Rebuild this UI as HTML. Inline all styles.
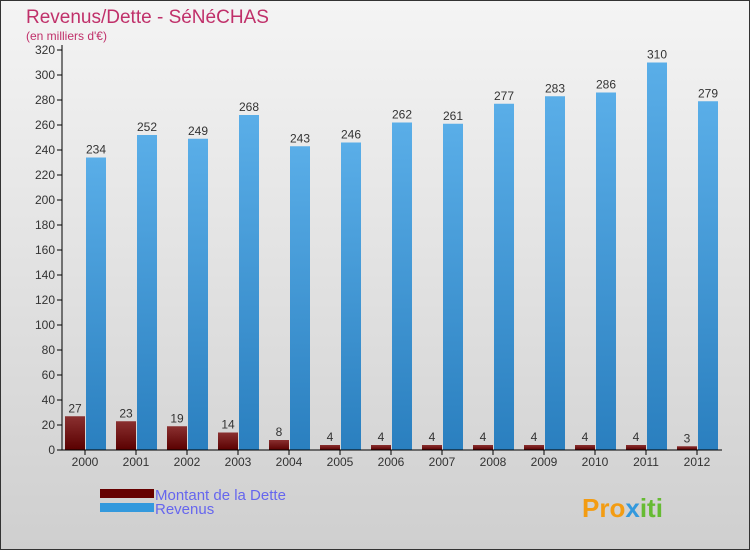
<!DOCTYPE html>
<html><head><meta charset="utf-8"><style>
body{margin:0;width:750px;height:550px;overflow:hidden;font-family:"Liberation Sans",sans-serif}
</style></head><body>
<svg width="750" height="550" xmlns="http://www.w3.org/2000/svg">
<defs>
<linearGradient id="bg" x1="0" y1="0" x2="0" y2="1"><stop offset="0" stop-color="#f4f4f4"/><stop offset="1" stop-color="#cfcfcf"/></linearGradient>
<linearGradient id="gr" x1="0" y1="0" x2="0" y2="1"><stop offset="0" stop-color="#8a3030"/><stop offset="1" stop-color="#5a0000"/></linearGradient>
<linearGradient id="gb" x1="0" y1="0" x2="0" y2="1"><stop offset="0" stop-color="#5aaee8"/><stop offset="1" stop-color="#2a7fbf"/></linearGradient>
</defs>
<rect x="0.5" y="0.5" width="749" height="549" fill="url(#bg)" stroke="#333"/>
<text x="26" y="23" font-size="19" fill="#c0306a">Revenus/Dette - SéNéCHAS</text>
<text x="26" y="40" font-size="12" fill="#c0306a">(en milliers d'€)</text>
<g id="plot"></g>
<rect x="100" y="489" width="54" height="9" fill="#660000"/>
<rect x="100" y="503" width="54" height="9" fill="#3399dd"/>
<text x="155" y="500" font-size="15" fill="#6666ee">Montant de la Dette</text>
<text x="155" y="514" font-size="15" fill="#6666ee">Revenus</text>
<text x="582" y="517" font-size="26" font-weight="bold" fill="#f39c12">Pro<tspan fill="#3399dd">x</tspan><tspan fill="#66bb33">iti</tspan></text>
</svg>
<script>
const years=["2000","2001","2002","2003","2004","2005","2006","2007","2008","2009","2010","2011","2012"];
const dette=[27,23,19,14,8,4,4,4,4,4,4,4,3];
const revenus=[234,252,249,268,243,246,262,261,277,283,286,310,279];
const yTicks=[0,20,40,60,80,100,120,140,160,180,200,220,240,260,280,300,320];
const NS="http://www.w3.org/2000/svg";
const g=document.getElementById('plot');
const y=v=>450-v*1.25;
const xc=i=>85+i*51;
function mk(t,a,txt){const e=document.createElementNS(NS,t);for(const k in a)e.setAttribute(k,a[k]);if(txt!==undefined)e.textContent=txt;g.appendChild(e);return e;}
yTicks.forEach(v=>{
 const l=mk('line',{x1:57,x2:62,y1:y(v),y2:y(v),stroke:'#000'});
 
 
 const t=mk('text',{x:55,y:y(v)+4,'font-size':12,'text-anchor':'end',fill:'#333'},v);
 
 
});
years.forEach((yr,i)=>{
 const c=xc(i);
 const b1=mk('rect',{x:c-20,y:y(dette[i]),width:20,height:dette[i]*1.25,fill:'url(#gr)'});
 
 
 const b2=mk('rect',{x:c+1,y:y(revenus[i]),width:20,height:revenus[i]*1.25,fill:'url(#gb)'});
 
 
 const t1=mk('text',{x:c-10,y:y(dette[i])-4,'font-size':12,'text-anchor':'middle',fill:'#333'},dette[i]);
 
 
 const t2=mk('text',{x:c+11,y:y(revenus[i])-4,'font-size':12,'text-anchor':'middle',fill:'#333'},revenus[i]);
 
 
 const tk=mk('line',{x1:c,x2:c,y1:450,y2:455,stroke:'#000'});
 
 
 const xl=mk('text',{x:c,y:466,'font-size':12,'text-anchor':'middle',fill:'#333'},yr);
 
 
});
const ax=mk('line',{x1:62,x2:62,y1:45,y2:450,stroke:'#000'});


const axx=mk('line',{x1:57,x2:722,y1:450,y2:450,stroke:'#000'});


</script>
</body></html>
